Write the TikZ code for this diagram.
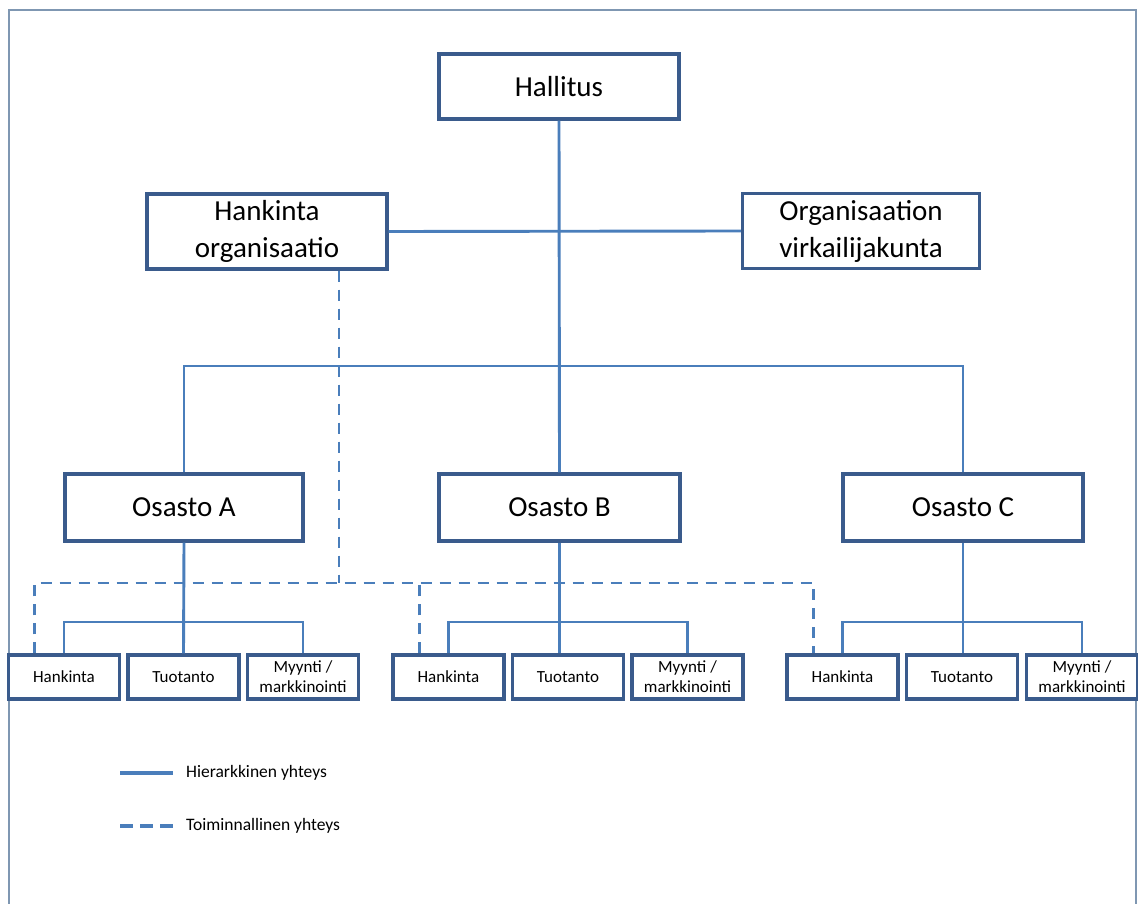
\documentclass[tikz,border=0pt]{standalone}
\usepackage{fontspec}
\setmainfont{Carlito}
\definecolor{boxc}{HTML}{3A5B8C}
\definecolor{linec}{HTML}{4A7EBB}
\definecolor{framec}{HTML}{7F97B2}
\begin{document}
\begin{tikzpicture}[x=1pt,y=-1pt,
  box/.style={draw=boxc, line width=3.3pt, fill=white, inner sep=0pt, align=center, text=black},
  bigbox/.style={box, minimum width=240pt, font=\fontsize{29}{37}\selectfont},
  smallbox/.style={box, minimum width=111pt, minimum height=44pt, font=\fontsize{17}{20}\selectfont},
  hier/.style={draw=linec, line width=2.9pt},
  func/.style={hier, dash pattern=on 11pt off 8pt},
  legtext/.style={anchor=west, inner sep=0pt, font=\fontsize{17.5}{20}\selectfont}
]
\useasboundingbox (0,0) rectangle (1138,904);
\draw[draw=framec, line width=1.2pt] (9,904) -- (9,10) -- (1136,10) -- (1136,904);

% top level
\node[bigbox, minimum height=65pt] (hall) at (559,86.5) {Hallitus};
\node[bigbox, minimum height=75pt] (horg) at (267,231.5) {Hankinta\\organisaatio};
\node[bigbox, minimum width=237pt, minimum height=75pt] (vorg) at (861,231) {Organisaation\\virkailijakunta};

% departments
\node[bigbox, minimum width=238pt, minimum height=67pt] (osA) at (184,507.5) {Osasto A};
\node[bigbox, minimum width=241pt, minimum height=67pt] (osB) at (559.5,507.5) {Osasto B};
\node[bigbox, minimum width=240pt, minimum height=67pt] (osC) at (963,507.5) {Osasto C};

% sub units
\node[smallbox] (hA) at (64,677) {Hankinta};
\node[smallbox] (tA) at (183.5,677) {Tuotanto};
\node[smallbox] (mA) at (303,677) {Myynti /\\markkinointi};
\node[smallbox] (hB) at (448.5,677) {Hankinta};
\node[smallbox] (tB) at (568,677) {Tuotanto};
\node[smallbox] (mB) at (687.5,677) {Myynti /\\markkinointi};
\node[smallbox] (hC) at (842.5,677) {Hankinta};
\node[smallbox] (tC) at (962,677) {Tuotanto};
\node[smallbox] (mC) at (1082,677) {Myynti /\\markkinointi};

% helper coordinates
\coordinate (bar) at (559,366);
\coordinate (dj) at (339,583);
\coordinate (sub) at (0,622);

% hierarchical connectors
\draw[hier] (hall.south) -- (osB.north);
\draw[hier] (horg.east) -- (vorg.west);
\draw[hier] (osA.north) |- (bar) -| (osC.north);
\draw[hier] (osA.south) -- (tA.north |- hA.north);
\draw[hier] (hA.north) -- (hA.north |- sub) -- (mA.north |- sub) -- (mA.north);
\draw[hier] (osB.south) -- (osB.south |- hB.north);
\draw[hier] (hB.north) -- (hB.north |- sub) -- (mB.north |- sub) -- (mB.north);
\draw[hier] (osC.south) -- (osC.south |- hC.north);
\draw[hier] (hC.north) -- (hC.north |- sub) -- (mC.north |- sub) -- (mC.north);

% functional (dashed) connectors
\draw[func] (horg.south -| dj) -- (dj);
\draw[func] ([xshift=28pt]hA.north west) |- (dj) -| ([xshift=28pt]hC.north west);
\draw[func] ([xshift=28pt]hB.north west) -- ([xshift=28pt]hB.north west |- dj);

% legend
\coordinate (l1a) at (120,773);
\coordinate (l1b) at (173,773);
\coordinate (l2a) at (120,826);
\coordinate (l2b) at (173,826);
\draw[hier, line width=3.2pt] (l1a) -- (l1b);
\draw[hier, line width=3.2pt, dash pattern=on 13pt off 7pt] (l2a) -- (l2b);
\node[legtext] (t1) at (186,773) {Hierarkkinen yhteys};
\node[legtext] (t2) at (186,826) {Toiminnallinen yhteys};
\end{tikzpicture}
\end{document}
